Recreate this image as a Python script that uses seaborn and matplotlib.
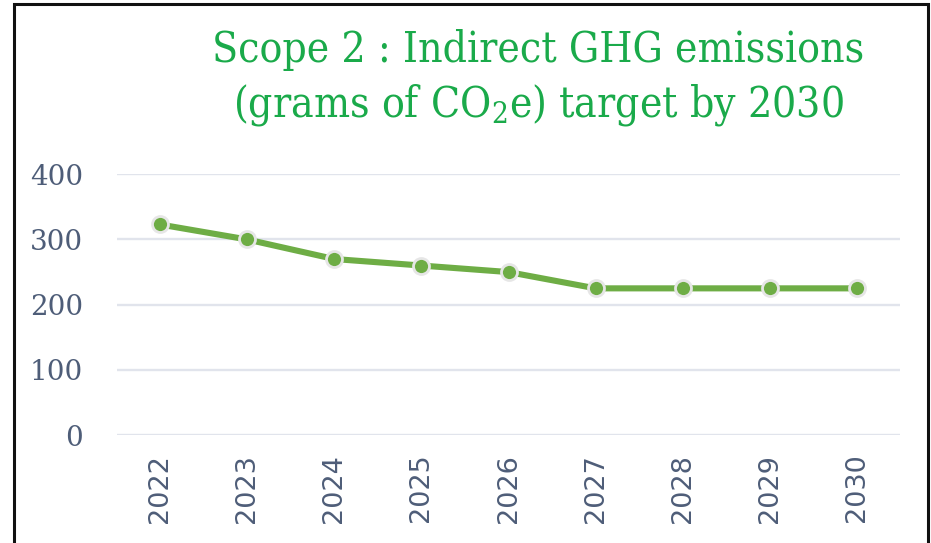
import matplotlib
matplotlib.use("Agg")
import matplotlib.pyplot as plt
from matplotlib.patches import Rectangle
import seaborn as sns
import pandas as pd

# Scope 2 emission targets per year
years = ["2022", "2023", "2024", "2025", "2026", "2027", "2028", "2029", "2030"]
emissions = [323, 300, 270, 260, 250, 225, 225, 225, 225]
y_ticks = [0, 100, 200, 300, 400]

df = pd.DataFrame({"year": years, "emissions": emissions})

sns.set_theme(style="white")
plt.rcParams["mathtext.fontset"] = "custom"
plt.rcParams["mathtext.rm"] = "DejaVu Serif:stretch=condensed"

W, H = 931, 543
fig = plt.figure(figsize=(W / 100, H / 100), dpi=100)
ax = fig.add_axes([116.5 / W, 1 - 435 / H, (900.5 - 116.5) / W, (435 - 174.3) / H])

line_color = "#6EAD45"
tick_color = "#4E5D78"
grid_color = "#E1E4EC"
title_color = "#1AAA4A"

sns.lineplot(data=df, x="year", y="emissions", ax=ax, color=line_color,
             linewidth=4.4, marker="o", markersize=11.5,
             markerfacecolor=line_color, markeredgecolor="#E6E6E6",
             markeredgewidth=2.0, sort=False, zorder=3)

ax.set_xlim(-0.5, len(years) - 0.5)
ax.set_ylim(0, 400)
ax.set_yticks(y_ticks)
ax.yaxis.grid(True, color=grid_color, linewidth=1.7)
ax.xaxis.grid(False)
for s in ax.spines.values():
    s.set_visible(False)
ax.set_xlabel("")
ax.set_ylabel("")
ax.tick_params(axis="y", length=0, pad=24, labelsize=20, labelcolor=tick_color)
ax.tick_params(axis="x", length=0, pad=13.5, labelsize=19.5, labelcolor=tick_color,
               labelrotation=90)
for lbl in ax.get_yticklabels():
    lbl.set_fontfamily("DejaVu Serif")
for lbl in ax.get_xticklabels():
    lbl.set_fontfamily("DejaVu Sans")

title_kw = dict(ha="center", va="baseline", color=title_color, fontsize=30.5,
                family="DejaVu Serif", fontstretch="condensed")
fig.text(538 / W, 1 - 62 / H, "Scope 2 : Indirect GHG emissions", **title_kw)
fig.text(538 / W, 1 - 117 / H, r"(grams of CO$_2$e) target by 2030", **title_kw)

# Black frame around the figure, open at the bottom edge
fig.patches.append(Rectangle((13.5 / W, -0.05), (928 - 13.5) / W, 1.05 - 4 / H,
                             transform=fig.transFigure, fill=False,
                             edgecolor="#111111", linewidth=2.2))

fig.savefig("out.png", dpi=100, facecolor="white")
